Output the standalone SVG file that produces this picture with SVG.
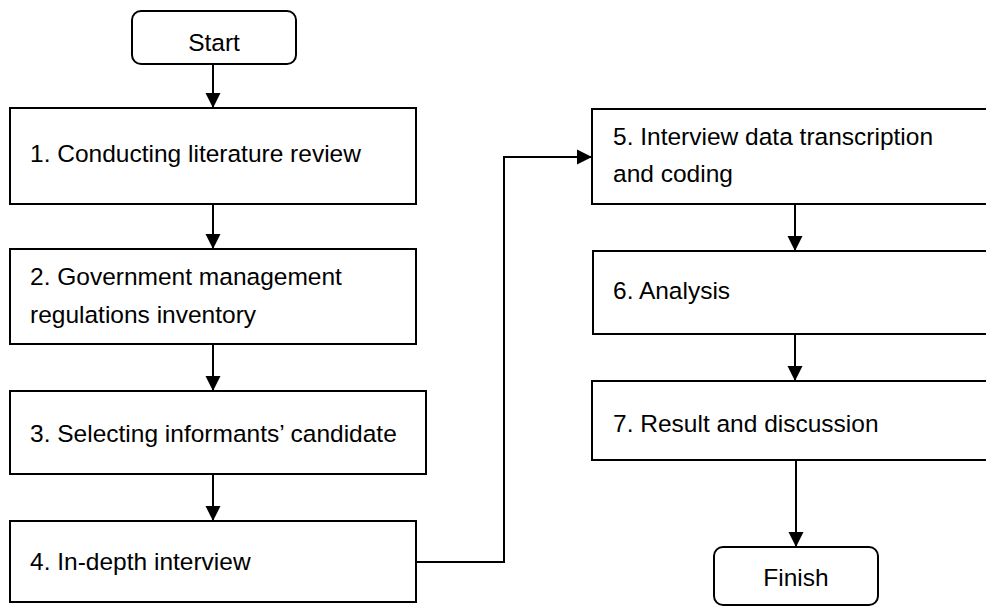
<svg xmlns="http://www.w3.org/2000/svg" width="986" height="607" viewBox="0 0 986 607">
<style>
.box{fill:#fff;stroke:#000;stroke-width:2}
.t{font-family:"Liberation Sans",Arial,sans-serif;font-size:24.5px;fill:#000}
.c{text-anchor:middle}
.conn{fill:none;stroke:#000;stroke-width:2;marker-end:url(#ah)}
</style>
<defs>
<marker id="ah" viewBox="0 0 16 16" markerWidth="16" markerHeight="16" refX="15" refY="8" orient="auto" markerUnits="userSpaceOnUse">
<path d="M0,0.5 L15,8 L0,15.5 z" fill="#000"/>
</marker>
</defs>
<rect width="986" height="607" fill="#fff"/>
<g id="connectors">
<line class="conn" x1="213" y1="64" x2="213" y2="108"/>
<line class="conn" x1="213" y1="204" x2="213" y2="249"/>
<line class="conn" x1="213" y1="344" x2="213" y2="391"/>
<line class="conn" x1="213" y1="474" x2="213" y2="521"/>
<polyline class="conn" points="416,562 504,562 504,157 592,157"/>
<line class="conn" x1="795" y1="204" x2="795" y2="251"/>
<line class="conn" x1="795" y1="334" x2="795" y2="381"/>
<line class="conn" x1="796" y1="460" x2="796" y2="547"/>
</g>
<g id="start">
<rect class="box" x="132" y="11" width="164" height="53" rx="9"/>
<text class="t c" x="214" y="51">Start</text>
</g>
<g id="step1">
<rect class="box" x="10" y="108" width="406" height="96"/>
<text class="t" x="30" y="162">1. Conducting literature review</text>
</g>
<g id="step2">
<rect class="box" x="10" y="249" width="406" height="95"/>
<text class="t" x="30" y="285">2. Government management</text>
<text class="t" x="30" y="323">regulations inventory</text>
</g>
<g id="step3">
<rect class="box" x="10" y="391" width="416" height="83"/>
<text class="t" x="30" y="442">3. Selecting informants’ candidate</text>
</g>
<g id="step4">
<rect class="box" x="10" y="521" width="406" height="81"/>
<text class="t" x="30" y="570">4. In-depth interview</text>
</g>
<g id="step5">
<rect class="box" x="592" y="109" width="404" height="95"/>
<text class="t" x="613" y="145">5. Interview data transcription</text>
<text class="t" x="613" y="182">and coding</text>
</g>
<g id="step6">
<rect class="box" x="593" y="251" width="403" height="83"/>
<text class="t" x="613" y="299">6. Analysis</text>
</g>
<g id="step7">
<rect class="box" x="592" y="381" width="404" height="79"/>
<text class="t" x="613" y="432">7. Result and discussion</text>
</g>
<g id="finish">
<rect class="box" x="714" y="547" width="164" height="58" rx="9"/>
<text class="t c" x="796" y="586">Finish</text>
</g>
</svg>
